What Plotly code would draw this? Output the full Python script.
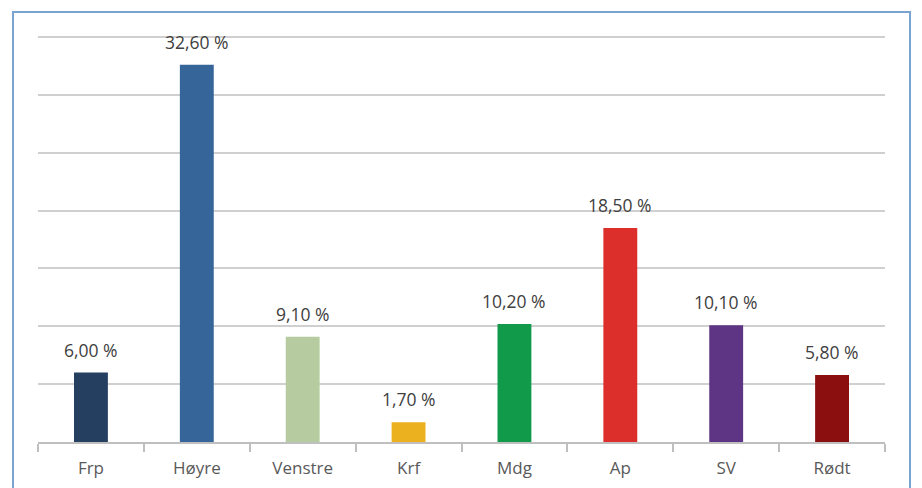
import plotly.graph_objects as go

parties = ["Frp", "Høyre", "Venstre", "Krf", "Mdg", "Ap", "SV", "Rødt"]
values = [6.0, 32.6, 9.1, 1.7, 10.2, 18.5, 10.1, 5.8]
colors = ["#243F60", "#356599", "#B6CCA0", "#EBB11E", "#109A4A", "#DC2E2A", "#5E3584", "#8B0F0E"]
labels = [f"{v:.2f}".replace(".", ",") + " %" for v in values]
grid_vals = [5, 10, 15, 20, 25, 30, 35]

FONT = "Open Sans"

fig = go.Figure(go.Bar(
    x=parties, y=values, marker_color=colors, marker_line_width=0,
    hoverinfo="x+y",
))

# page offset of 8px (body margin) compensated
W, H = 922, 488
L, R, T, B = 30, 45, 26, 54
pw, ph = W - L - R, H - T - B

annotations = [dict(x=p, y=v, text=t, showarrow=False, yanchor="bottom",
                    yshift=9, font=dict(family=FONT, size=17.5, color="#404040"))
               for p, v, t in zip(parties, values, labels)]

fig.update_layout(
    width=W, height=H,
    margin=dict(l=L, r=R, t=T, b=B),
    paper_bgcolor="white", plot_bgcolor="white",
    bargap=0.68, showlegend=False,
    font=dict(family=FONT, size=17, color="#595959"),
    xaxis=dict(showline=True, linecolor="#BFBFBF", linewidth=1.5,
               ticks="outside", tickson="boundaries", ticklen=8,
               tickcolor="#BFBFBF", tickwidth=1.5, ticklabelstandoff=10,
               tickfont=dict(family=FONT, size=17, color="#595959")),
    yaxis=dict(range=[0, 35 * 408 / 405], tickvals=grid_vals,
               showticklabels=False,
               showgrid=True, gridcolor="#D0D0D0", gridwidth=1.5,
               zeroline=False),
    annotations=annotations,
    shapes=[dict(type="rect", xref="paper", yref="paper",
                 x0=(5 - L) / pw, x1=(902 - L) / pw,
                 y0=(H - B - 520) / ph, y1=(H - B - 4) / ph,
                 line=dict(color="#7BA3CF", width=2), layer="below")],
)

fig.write_html("out.html")
